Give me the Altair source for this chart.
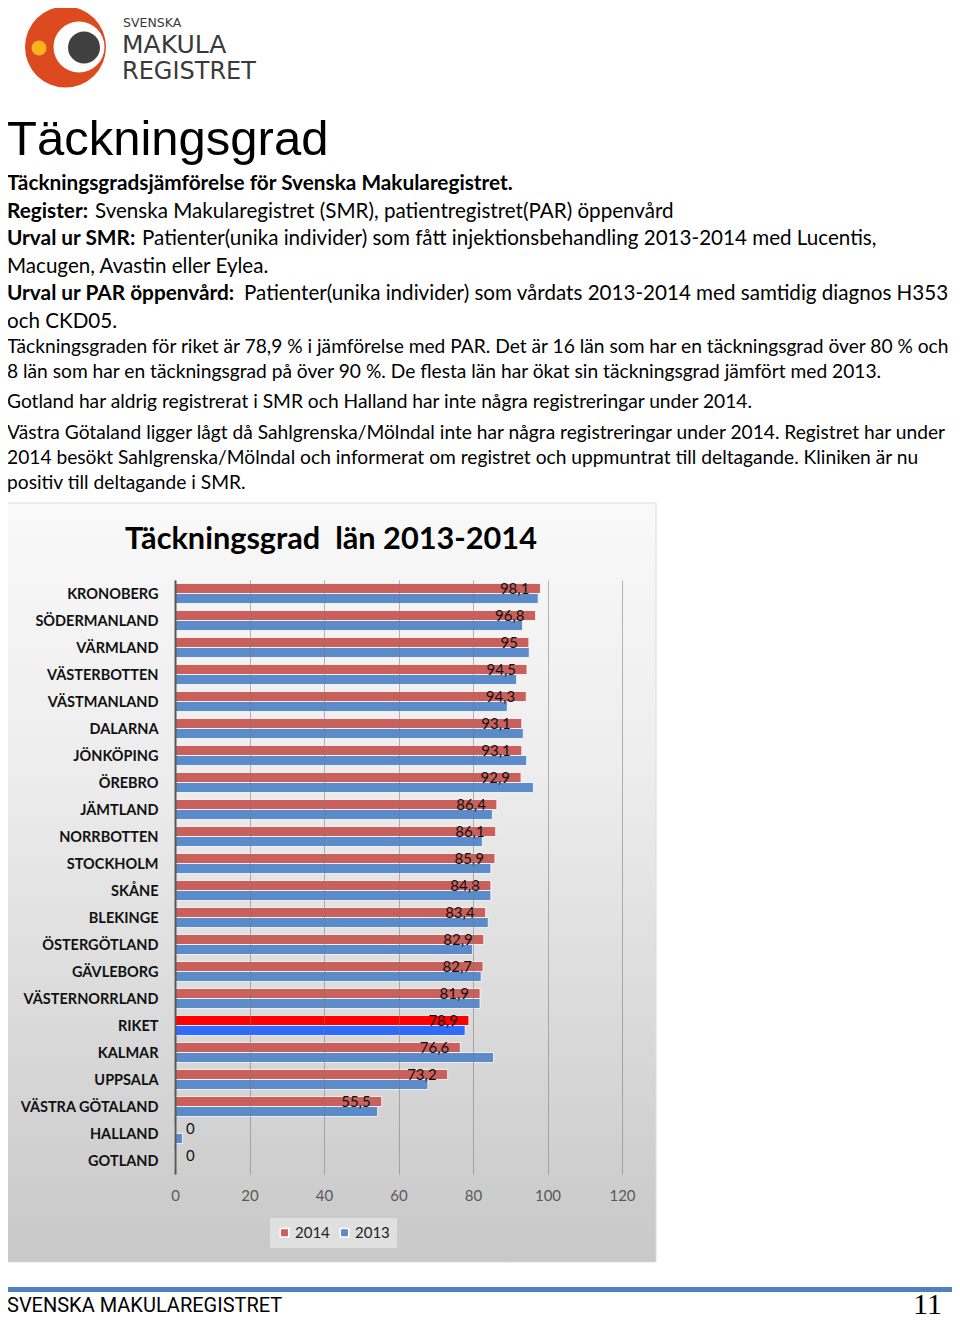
import altair as alt
import pandas as pd

# ---------------- data ----------------
regions = ["KRONOBERG", "SÖDERMANLAND", "VÄRMLAND", "VÄSTERBOTTEN", "VÄSTMANLAND",
           "DALARNA", "JÖNKÖPING", "ÖREBRO", "JÄMTLAND", "NORRBOTTEN", "STOCKHOLM",
           "SKÅNE", "BLEKINGE", "ÖSTERGÖTLAND", "GÄVLEBORG", "VÄSTERNORRLAND", "RIKET",
           "KALMAR", "UPPSALA", "VÄSTRA GÖTALAND", "HALLAND", "GOTLAND"]
v2014 = [98.1, 96.8, 95, 94.5, 94.3, 93.1, 93.1, 92.9, 86.4, 86.1, 85.9, 84.8, 83.4,
         82.9, 82.7, 81.9, 78.9, 76.6, 73.2, 55.5, 0, 0]
v2013 = [97.5, 93.3, 95.1, 91.7, 89.2, 93.5, 94.4, 96.2, 85.2, 82.5, 84.8, 84.8, 84.1,
         79.9, 82.2, 81.9, 77.9, 85.5, 67.9, 54.4, 2.0, 0]
years = ["2014", "2013"]
x_ticks = [0, 20, 40, 60, 80, 100, 120]

page_title = "Täckningsgrad"
chart_title = "Täckningsgrad\u00a0 län 2013-2014"
header_lines = [
    ("Täckningsgradsjämförelse för Svenska Makularegistret.", ""),
    ("Register:", "Svenska Makularegistret (SMR), patientregistret(PAR) öppenvård"),
    ("Urval ur SMR:", "Patienter(unika individer) som fått injektionsbehandling 2013-2014 med Lucentis,"),
    ("", "Macugen, Avastin eller Eylea."),
    ("Urval ur PAR öppenvård:", "Patienter(unika individer) som vårdats 2013-2014 med samtidig diagnos H353"),
    ("", "och CKD05."),
]
body_lines = [
    "Täckningsgraden för riket är 78,9 % i jämförelse med PAR. Det är 16 län som har en täckningsgrad över 80 % och",
    "8 län som har en täckningsgrad på över 90 %. De flesta län har ökat sin täckningsgrad jämfört med 2013.",
    "Gotland har aldrig registrerat i SMR och Halland har inte några registreringar under 2014.",
    "Västra Götaland ligger lågt då Sahlgrenska/Mölndal inte har några registreringar under 2014. Registret har under",
    "2014 besökt Sahlgrenska/Mölndal och informerat om registret och uppmuntrat till deltagande. Kliniken är nu",
    "positiv till deltagande i SMR.",
]
footer_text = "SVENSKA MAKULAREGISTRET"
page_number = "11"

# ---------------- table ----------------
rows = []
for r, a, b in zip(regions, v2014, v2013):
    riket = r == "RIKET"
    rows.append({"region": r, "year": "2014", "value": a,
                 "serie": "2014 riket" if riket else "2014"})
    rows.append({"region": r, "year": "2013", "value": b,
                 "serie": "2013 riket" if riket else "2013"})
df = pd.DataFrame(rows)

# ---------------- layout helpers (page coords -> plot coords) ----------------
OX, OY = 175, 580          # plot origin on the page
PW, PH = 447, 594          # plot size
BODY = "Lato"


def px(x):
    return x - OX


def py(y):
    return y - OY


def txt(s, x, y, size, weight="normal", font=BODY, color="#000000",
        align="left", baseline="alphabetic"):
    return alt.Chart(pd.DataFrame({"t": [s]})).mark_text(
        align=align, baseline=baseline, font=font, fontSize=size,
        fontWeight=weight, color=color
    ).encode(x=alt.value(px(x)), y=alt.value(py(y)), text="t:N")


def dot(x, y, d, color):
    return alt.Chart(pd.DataFrame({"t": [0]})).mark_point(
        shape="circle", filled=True, opacity=1, color=color, size=d * d, strokeWidth=0
    ).encode(x=alt.value(px(x)), y=alt.value(py(y)))


def box(x1, y1, x2, y2, fill, stroke=None):
    kw = {"fill": fill}
    if stroke:
        kw["stroke"] = stroke
        kw["strokeWidth"] = 1
    return alt.Chart(pd.DataFrame({"t": [0]})).mark_rect(**kw).encode(
        x=alt.value(px(x1)), x2=alt.value(px(x2)),
        y=alt.value(py(y1)), y2=alt.value(py(y2)))


layers = []

# chart background panel
grad = alt.LinearGradient(
    gradient="linear",
    stops=[alt.GradientStop(color="#F9F9F9", offset=0),
           alt.GradientStop(color="#EDEDED", offset=0.35),
           alt.GradientStop(color="#C8C8C8", offset=1)],
    x1=0, x2=0, y1=0, y2=1)
layers.append(box(7, 503, 656, 1262, grad, stroke="#DDDDDD"))

# logo
layers.append(dot(65.5, 47, 81, "#DE4A1F"))
layers.append(dot(79, 47, 51, "#FFFFFF"))
layers.append(dot(84, 47.5, 32, "#404040"))
layers.append(dot(39, 48, 15, "#F4B41A"))
layers.append(txt("SVENSKA", 123, 27, 12.5, font="DejaVu Sans", color="#3A3A3A"))
layers.append(txt("MAKULA", 122, 53, 25, font="DejaVu Sans", color="#3A3A3A"))
layers.append(txt("REGISTRET", 122, 79, 24, font="DejaVu Sans", color="#3A3A3A"))

# page title
layers.append(txt(page_title, 7, 155, 49, font="Liberation Sans"))

# header lines (bold prefix + regular rest)
reg_x = {"Register:": 95, "Urval ur SMR:": 142, "Urval ur PAR öppenvård:": 244}
for i, (bold, rest) in enumerate(header_lines):
    y = 190 + i * 27.5
    if bold:
        layers.append(txt(bold, 7, y, 20.8, weight="bold"))
    if rest:
        layers.append(txt(rest, reg_x.get(bold, 7), y, 20.6))

body_y = [353, 378, 408, 439, 464, 489]
for s, y in zip(body_lines, body_y):
    layers.append(txt(s, 7, y, 19.2))

# chart title
layers.append(txt(chart_title, 331, 549, 30.7, weight="bold", align="center"))

# bars
color_scale = alt.Scale(domain=["2014", "2013", "2014 riket", "2013 riket"],
                        range=["#CA605C", "#5B8BC9", "#FF0000", "#2F6BFF"])
y_enc = alt.Y("region:N", sort=regions,
              scale=alt.Scale(paddingInner=0.26, paddingOuter=0.13),
              axis=alt.Axis(title=None, labelFont=BODY, labelFontWeight="bold",
                            labelFontSize=14.5, labelColor="#111111", labelPadding=17,
                            labelOffset=1.5, ticks=False, domainColor="#595959",
                            domainWidth=2, grid=False, zindex=1))
x_enc = alt.X("value:Q", scale=alt.Scale(domain=[0, 120], nice=False),
              axis=alt.Axis(title=None, values=x_ticks, labelFont=BODY, labelFontSize=15,
                            labelColor="#595959", labelPadding=14, labelFlush=False,
                            ticks=False, domain=False, grid=True, gridColor="#7A7A7A",
                            gridOpacity=0.55, zindex=1))
yoff = alt.YOffset("year:N", sort=years)

bars = alt.Chart(df).mark_bar(stroke="#FFFFFF", strokeWidth=1, strokeOpacity=0.8).encode(
    y=y_enc, x=x_enc, yOffset=yoff,
    color=alt.Color("serie:N", scale=color_scale,
                    legend=alt.Legend(values=years, title=None, orient="none",
                                      legendX=95, legendY=638, direction="horizontal",
                                      fillColor="#E0E0E0", padding=7,
                                      symbolType="square", symbolSize=70,
                                      labelFont=BODY, labelFontSize=15,
                                      labelColor="#222222", columnPadding=7,
                                      labelOffset=3)))
layers.append(bars)

lab = alt.Chart(df).transform_filter("datum.year == '2014'").transform_calculate(
    lab="replace(toString(datum.value), '.', ',')")
layers.append(lab.transform_filter("datum.value > 0").mark_text(
    align="right", baseline="middle", dx=-11, font=BODY, fontSize=15, color="#111111"
).encode(y=alt.Y("region:N", sort=regions), x="value:Q", yOffset=yoff, text="lab:N"))
layers.append(lab.transform_filter("datum.value <= 0").mark_text(
    align="left", baseline="middle", dx=11, font=BODY, fontSize=15, color="#111111"
).encode(y=alt.Y("region:N", sort=regions), x="value:Q", yOffset=yoff, text="lab:N"))

# footer
layers.append(box(7, 1287, 952, 1292, "#4F81BD"))
layers.append(txt(footer_text, 7, 1312, 20, font="Roboto"))
layers.append(txt(page_number, 942, 1314, 30, font="Liberation Serif", align="right"))

chart = alt.layer(*layers).properties(
    width=PW, height=PH,
    autosize=alt.AutoSizeParams(type="none"),
    padding={"left": OX - 8, "top": OY - 8, "right": 952 - (OX + PW), "bottom": 1327 - 8 - (OY + PH)},
    background="#FFFFFF",
).configure_view(stroke=None)

chart.save("out.html", embed_options={"renderer": "svg", "actions": False})
